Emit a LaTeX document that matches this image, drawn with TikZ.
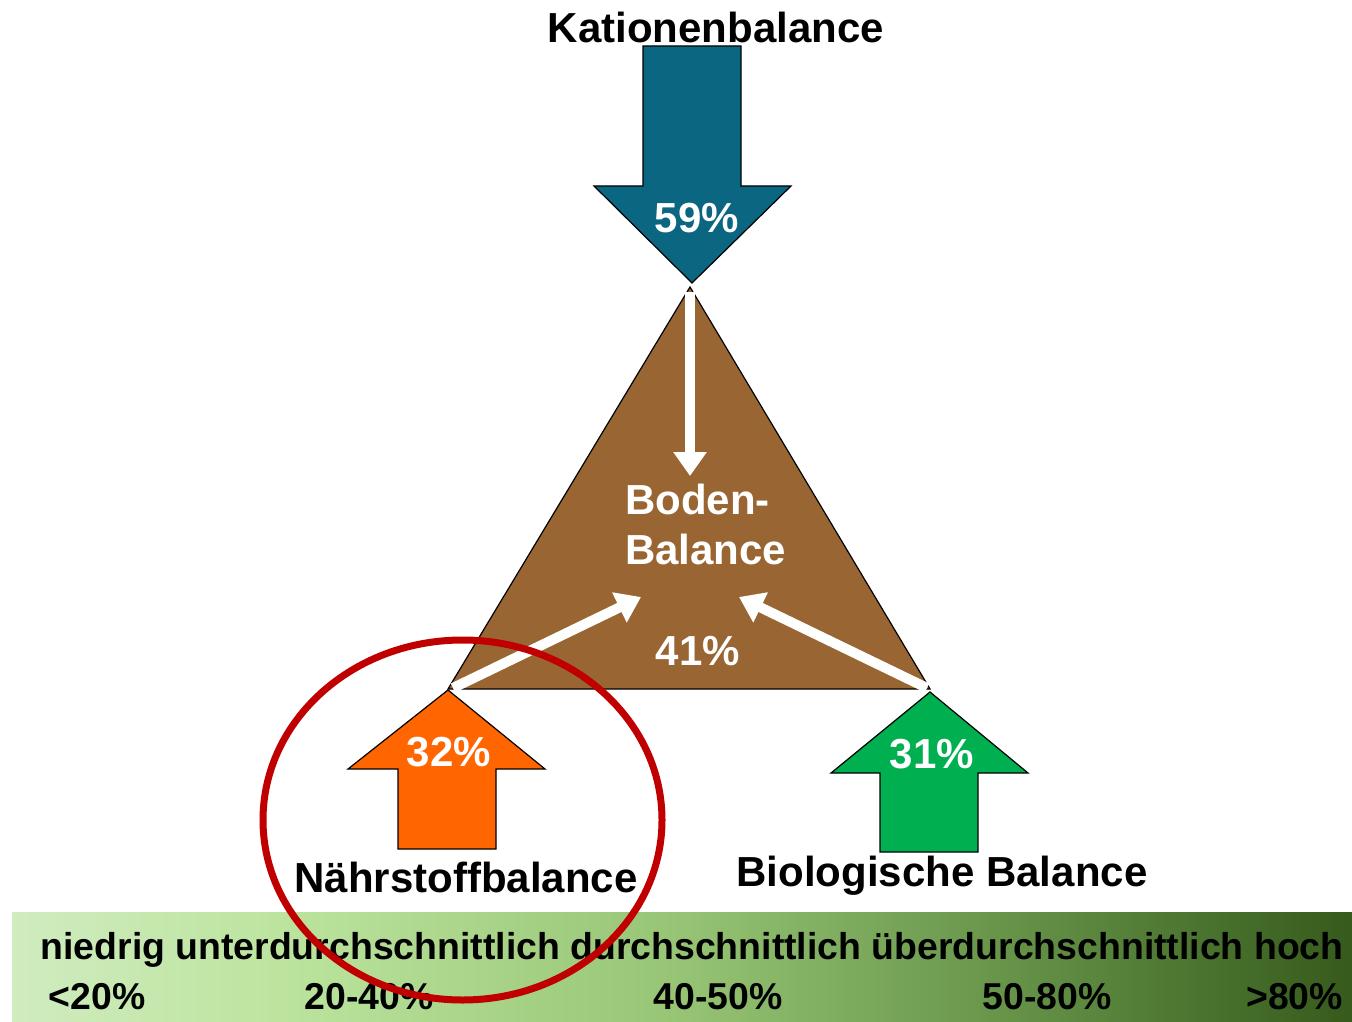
\documentclass[tikz,border=0pt]{standalone}
\usepackage{fontspec}
\setmainfont{Liberation Sans}
\usetikzlibrary{positioning, arrows.meta}

\definecolor{kation}{RGB}{11,102,130}
\definecolor{boden}{RGB}{153,102,51}
\definecolor{naehr}{RGB}{255,102,0}
\definecolor{bio}{RGB}{0,176,80}
\definecolor{kreis}{RGB}{192,0,0}
\definecolor{skalaA}{RGB}{208,236,192}
\definecolor{skalaB}{RGB}{188,228,158}
\definecolor{skalaC}{RGB}{150,196,116}
\definecolor{skalaD}{RGB}{95,140,66}
\definecolor{skalaE}{RGB}{54,90,28}
\pgfdeclarehorizontalshading{skala}{100bp}{color(0bp)=(skalaA); color(25bp)=(skalaA); color(35bp)=(skalaB); color(50bp)=(skalaC); color(64bp)=(skalaD); color(75bp)=(skalaE); color(100bp)=(skalaE)}

\begin{document}
\begin{tikzpicture}[x=0.5pt, y=-0.5pt, font=\bfseries\fontsize{21}{25}\selectfont,
  block/.style={draw=black, line width=0.6pt},
  weiss/.style={draw=white, line width=5pt, -{Triangle[length=12pt,width=16pt]}},
  pct/.style={text=white},
  skalatext/.style={font=\bfseries\fontsize{18.7}{22}\selectfont}]
\useasboundingbox (0,0) rectangle (1352,1021);

% Skala unten
\shade[shading=skala] (12,912) rectangle (1352,1021);
\node[skalatext] (stufen) at (692,950) {niedrig unterdurchschnittlich durchschnittlich überdurchschnittlich hoch};
\node[skalatext] (p1) at (97,997) {<20\%};
\node[skalatext] (p2) at (369,997) {20-40\%};
\node[skalatext] (p3) at (718,997) {40-50\%};
\node[skalatext] (p4) at (1047,997) {50-80\%};
\node[skalatext, anchor=east] (p5) at (1350,997) {>80\%};

% Dreieck
\draw[block, fill=boden] (690,287) coordinate (spitze) -- (930,689) coordinate (rechts) -- (448,689) coordinate (links) -- cycle;
\node[pct, align=left, anchor=west] (bb) at (618,524) {Boden-\\Balance};
\node[pct] (p41) at (698,651) {41\%};

% Kationen
\draw[block, fill=kation] (643,46) -- (741,46) -- (741,186) -- (791,186) -- (692,283) coordinate (kspitze)
  -- (594,186) -- (643,186) -- cycle;
\node (kat) at (716,27) {Kationenbalance};
\node[pct] (p59) at (697,218) {59\%};

% Naehrstoff
\draw[block, fill=naehr] (398,849) -- (398,769) -- (348,769) -- (448,690) coordinate (nspitze)
  -- (545,769) -- (496,769) -- (496,849) -- cycle;
\node[pct] (p32) at (449,752) {32\%};
\node (naehrtext) at (466,877) {Nährstoffbalance};

% Biologie
\draw[block, fill=bio] (880,852) -- (880,773) -- (831,773) -- (930,692) coordinate (bspitze)
  -- (1028,773) -- (978,773) -- (978,852) -- cycle;
\node[pct] (p31) at (932,754) {31\%};
\node (biotext) at (942,876) {Biologische Balance};

% weisse Pfeile
\coordinate (zielo) at (690,476);
\coordinate (ziell) at (641,597);
\coordinate (zielr) at (739,597);
\coordinate (startk) at (690,292);
\coordinate (startl) at (453,688);
\coordinate (startr) at (927,688);
\draw[weiss] (startk) -- (zielo);
\draw[weiss] (startl) -- (ziell);
\draw[weiss] (startr) -- (zielr);

% Markierung
\draw[kreis, line width=3.5pt] (462.5,820) ellipse (199.5 and 180);
\end{tikzpicture}
\end{document}
